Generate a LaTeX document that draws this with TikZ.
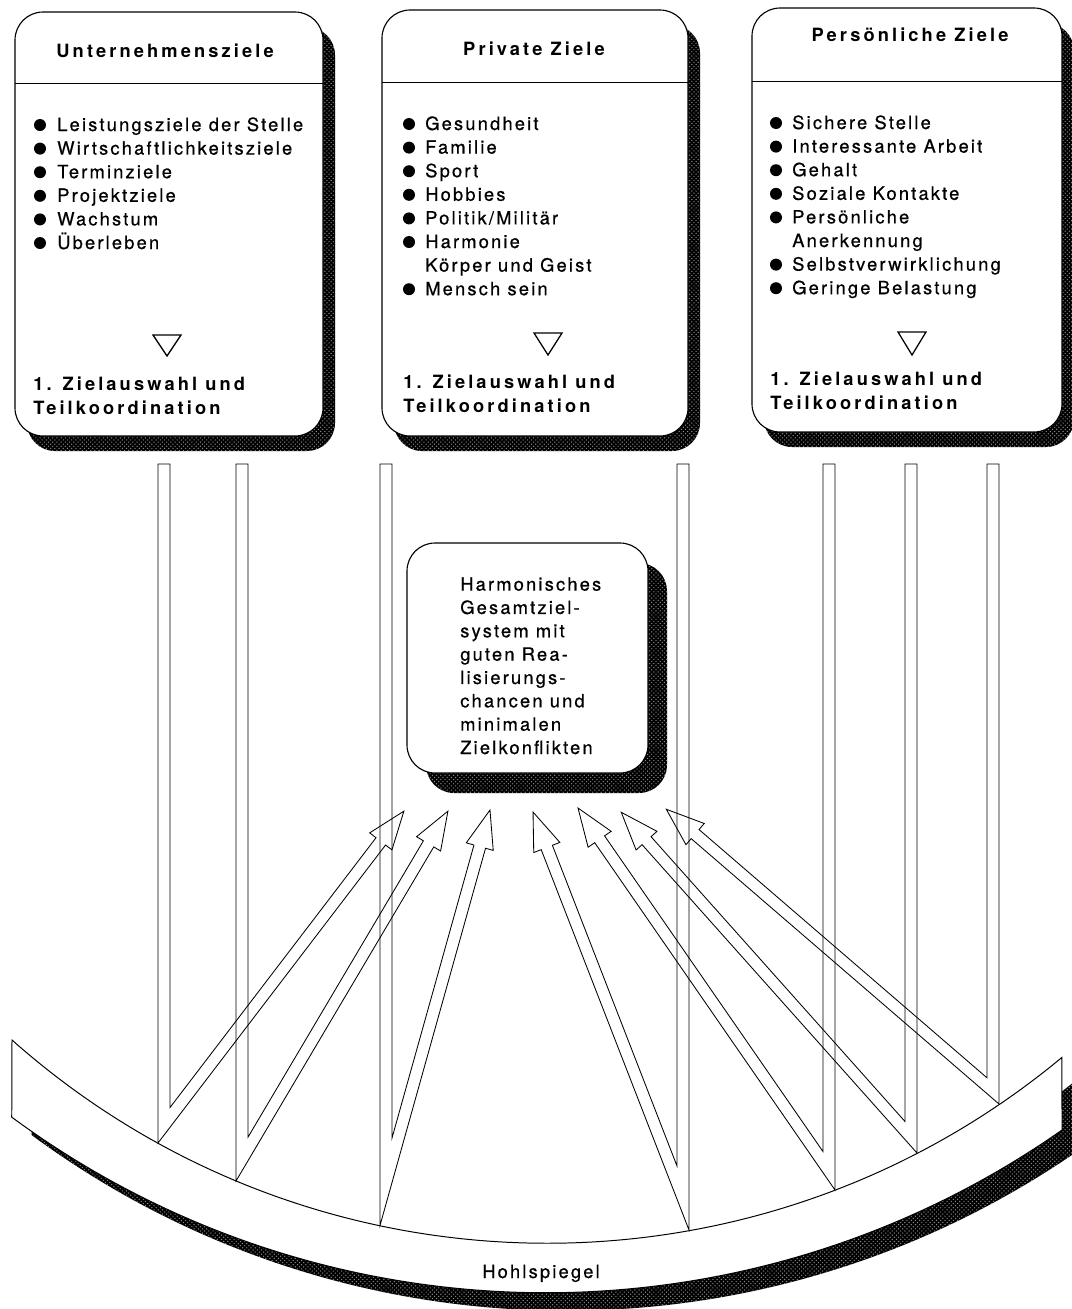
\documentclass[tikz,border=0pt]{standalone}
\usepackage{fontspec}
\setmainfont{TeX Gyre Heros}[LetterSpace=12, FakeBold=0.6]
\newfontfamily\headfont{TeX Gyre Heros}[LetterSpace=17]
\usetikzlibrary{calc, patterns}

\begin{document}
\begin{tikzpicture}[x=0.025cm, y=-0.025cm,
    goalbox/.style={draw, line width=0.8pt, fill=white, rounded corners=0.7cm},
    stipple/.style={fill=black, postaction={pattern=crosshatch dots, pattern color=black!45!white}},
    item/.style={anchor=base west, inner sep=0pt, font=\fontsize{13}{16.8}\selectfont},
    head/.style={anchor=base, inner sep=0pt, font=\headfont\bfseries\fontsize{13}{16.8}\selectfont},
    stage/.style={anchor=north west, inner sep=0pt, align=left, font=\headfont\bfseries\fontsize{13}{16.8}\selectfont},
    ray/.style={draw, line width=0.6pt},
    vee/.style={draw, line width=0.9pt}]
\useasboundingbox (0,0) rectangle (1072,1309);
\clip (0,0) rectangle (1072,1309);
\fill[white] (0,0) rectangle (1072,1309);

% three goal boxes
\fill[stipple, rounded corners=0.7cm] (27,27) rectangle (335,451);
\draw[goalbox] (15,12) rectangle (323,436);
\draw[line width=0.6pt] (15,83) -- (323,83);
\fill[stipple, rounded corners=0.7cm] (394,25) rectangle (700,451);
\draw[goalbox] (382,10) rectangle (688,436);
\draw[line width=0.6pt] (382,82) -- (688,82);
\fill[stipple, rounded corners=0.7cm] (764,23) rectangle (1074,447);
\draw[goalbox] (752,8) rectangle (1062,432);
\draw[line width=0.6pt] (752,81) -- (1062,81);

\node[head] (t1) at (165,57) {Unternehmensziele};
\node[head] (t2) at (534,55) {Private Ziele};
\node[head] (t3) at (910,41) {Persönliche Ziele};

\foreach \bl/\txt [count=\i] in {1/Leistungsziele der Stelle, 1/Wirtschaftlichkeitsziele,
    1/Terminziele, 1/Projektziele, 1/Wachstum, 1/Überleben} {
  \pgfmathsetmacro\yy{131+23.6*(\i-1)}
  \ifnum\bl=1 \fill (40,\yy-6) circle[radius=6]; \fi
  \node[item] (a\i) at (57,\yy) {\txt};
}
\foreach \bl/\txt [count=\i] in {1/Gesundheit, 1/Familie, 1/Sport, 1/Hobbies,
    1/{Politik/Militär}, 1/Harmonie, 0/Körper und Geist, 1/Mensch sein} {
  \pgfmathsetmacro\yy{130+23.6*(\i-1)}
  \ifnum\bl=1 \fill (409,\yy-6) circle[radius=6]; \fi
  \node[item] (b\i) at (425,\yy) {\txt};
}
\foreach \bl/\txt [count=\i] in {1/Sichere Stelle, 1/Interessante Arbeit, 1/Gehalt,
    1/Soziale Kontakte, 1/Persönliche, 0/Anerkennung, 1/Selbstverwirklichung, 1/Geringe Belastung} {
  \pgfmathsetmacro\yy{129+23.6*(\i-1)}
  \ifnum\bl=1 \fill (776,\yy-6) circle[radius=6]; \fi
  \node[item] (c\i) at (792,\yy) {\txt};
}

\draw[vee] (153,335) -- (181,335) -- (167,356) -- cycle;
\draw[vee] (534,333) -- (562,333) -- (548,355) -- cycle;
\draw[vee] (898,332) -- (926,332) -- (912,355) -- cycle;

\node[stage] (s1) at (33,377) {1. Zielauswahl und\\Teilkoordination};
\node[stage] (s2) at (403,375) {1. Zielauswahl und\\Teilkoordination};
\node[stage] (s3) at (770,372) {1. Zielauswahl und\\Teilkoordination};

% goal system in the focus
\fill[stipple, rounded corners=0.7cm] (426,563) rectangle (667,793);
\draw[goalbox] (407,543) rectangle (648,773);
\node[anchor=north west, inner sep=0pt, align=left, font=\fontsize{13}{16.6}\selectfont] (core)
  at (460,577) {Harmonisches\\Gesamtziel-\\system mit\\guten Rea-\\lisierungs-\\chancen und\\minimalen\\Zielkonflikten};

% concave mirror
\fill[stipple, shift={(20,18)}] (12,1040) arc[start angle=131.6, end angle=50.3, radius=806]
  -- (1062,1130) arc[start angle=55, end angle=126.4, radius=900] -- cycle;
\draw[line width=0.7pt, fill=white] (12,1040) arc[start angle=131.6, end angle=50.3, radius=806]
  -- (1062,1130) arc[start angle=55, end angle=126.4, radius=900] -- cycle;
\node[anchor=base, inner sep=0pt, font=\fontsize{13}{16.8}\selectfont] (mirror) at (541,1278) {Hohlspiegel};

% rays: down to the mirror, reflected up to the goal system
\foreach \xout/\sd/\ymir/\tipx/\tipy [count=\k] in {
    158/1/1143/404/811, 236/1/1181/448/811, 380/1/1225.5/490/810,
    689/-1/1230/533/812, 835/-1/1190/578/808, 917/-1/1153/621/812, 999/-1/1104/666/809} {
  \pgfmathsetmacro\angz{atan2(\tipy-\ymir,\tipx-\xout)}
  \pgfmathsetmacro\aimx{\tipx-6*cos(\angz-90*\sd)}
  \pgfmathsetmacro\aimy{\tipy-6*sin(\angz-90*\sd)}
  \pgfmathsetmacro\ang{atan2(\aimy-\ymir,\aimx-\xout)}
  \pgfmathsetmacro\nang{\ang-90*\sd}
  \pgfmathsetmacro\blen{10*veclen((\aimx-\xout)/10,(\aimy-\ymir)/10)}
  \pgfmathsetmacro\shaft{\blen-38}
  \pgfmathsetmacro\vpos{(12*\sd-12*cos(\nang))/cos(\ang)}
  \coordinate (p\k) at (\xout,\ymir);
  \coordinate (o\k) at ($(p\k)+(\ang:\shaft)$);
  \coordinate (v\k) at ($(p\k)+(\nang:12)+(\ang:\vpos)$);
  \draw[ray] (\xout+12*\sd,464) -- (\xout,464) -- (p\k) -- (o\k)
    -- ($(o\k)+(\nang+180:8)$) -- ($(p\k)+(\ang:\blen)+(\nang:6)$)
    -- ($(o\k)+(\nang:20)$) -- ($(o\k)+(\nang:12)$) -- (v\k) -- cycle;
}
\end{tikzpicture}
\end{document}
